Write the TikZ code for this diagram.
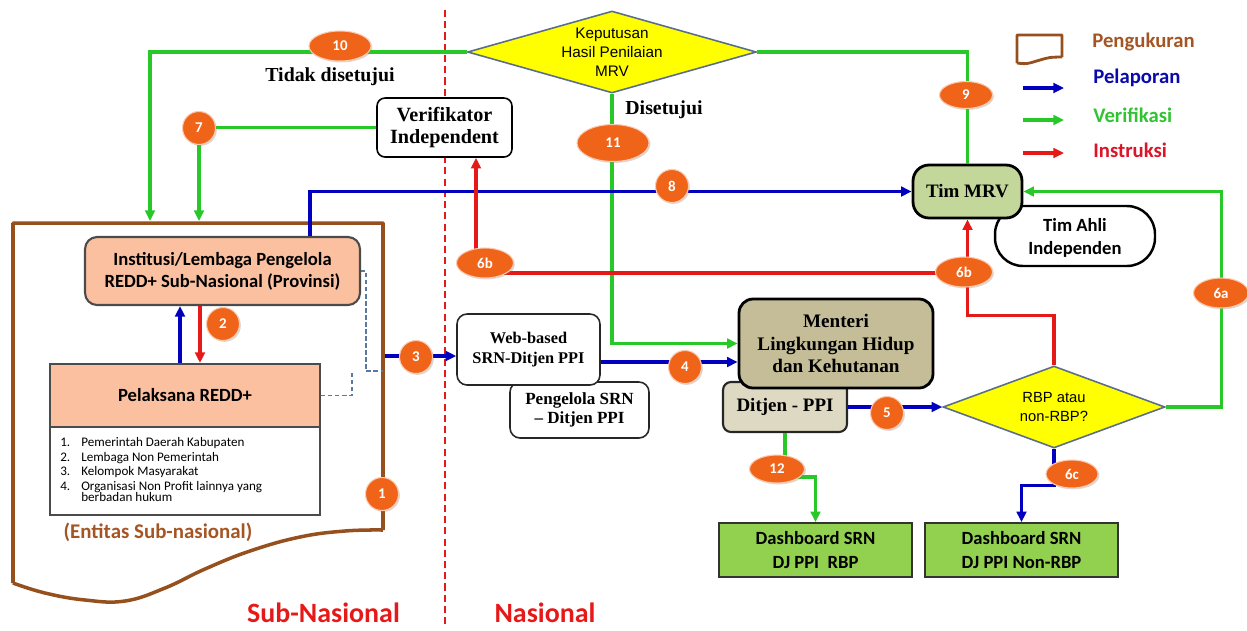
\documentclass[tikz,border=0pt]{standalone}
\usepackage{fontspec}
\setmainfont{Liberation Serif}
\newfontfamily\calfont{Carlito}
\newfontfamily\arialfont{Liberation Sans}
\usetikzlibrary{shapes.geometric,arrows.meta,calc,shadows}

\definecolor{cgreen}{RGB}{40,200,40}
\definecolor{cblue}{RGB}{0,0,190}
\definecolor{cred}{RGB}{230,25,25}
\definecolor{cbrown}{RGB}{150,80,30}
\definecolor{ctxtbrown}{RGB}{165,85,35}
\definecolor{corange}{RGB}{240,100,25}
\definecolor{csalmon}{RGB}{250,192,160}
\definecolor{ctim}{RGB}{196,215,155}
\definecolor{cmen}{RGB}{196,189,151}
\definecolor{cdit}{RGB}{221,217,195}
\definecolor{cdashb}{RGB}{146,208,80}
\definecolor{cyel}{RGB}{255,255,0}
\definecolor{cdiab}{RGB}{90,110,140}
\definecolor{cgray}{RGB}{75,75,75}
\definecolor{cdashline}{RGB}{90,120,160}
\definecolor{clegblue}{RGB}{10,10,170}
\definecolor{cleggreen}{RGB}{50,195,50}
\definecolor{clegred}{RGB}{220,20,40}

\newcommand\fsz[2]{\fontsize{#1}{#2}\selectfont}

\begin{document}
\begin{tikzpicture}[x=0.02cm,y=-0.02cm,
  conn/.style={line width=1.8pt},
  arr/.style={conn,-{Triangle[length=6pt,width=5.5pt]}},
  dashl/.style={draw=cdashline,line width=0.8pt,dash pattern=on 2.5pt off 1.5pt},
  badge/.style={ellipse,fill=corange,draw=corange!35!white,line width=0.6pt,
    text=white,font=\calfont\bfseries\fsz{8.5}{10},inner sep=0pt,
    drop shadow={opacity=0.3,shadow xshift=0.8pt,shadow yshift=-0.8pt}},
  rbadge/.style={badge,minimum width=0.66cm,minimum height=0.66cm},
  wbox/.style={draw=black,line width=0.9pt,fill=white,align=center,inner sep=0pt},
  dashbox/.style={draw=black!80,line width=1pt,fill=cdashb,align=center,inner sep=0pt,
    minimum width=3.86cm,minimum height=1.08cm,font=\calfont\bfseries\fsz{10.6}{13.6}},
  listtxt/.style={anchor=west,inner sep=0pt,font=\calfont\fsz{7.45}{8}},
]
\useasboundingbox (0,0) rectangle (1247,630);

% divider
\coordinate (dvt) at (445,10);
\coordinate (dvb) at (445,626);
\draw[cred,line width=1.3pt,dash pattern=on 4pt off 2.4pt] (dvt) -- (dvb);

% document shape (Entitas sub-nasional)
\draw[cbrown,line width=2pt,line join=round] (383,530) -- (383,223) -- (13,223) -- (13,583)
  plot[smooth,tension=0.7] coordinates {(13,583) (45,593) (85,600) (125,601) (165,588) (205,569) (250,551) (300,537) (345,531) (383,530)};

% decision diamonds
\node[diamond,fill=cyel,draw=cdiab,line width=0.9pt,inner sep=0pt,
  minimum width=5.78cm,minimum height=1.64cm] (kep) at (612,52) {};
\node[align=center,font=\arialfont\fsz{8.7}{10.8}] (kept) at (kep.center) {Keputusan\\Hasil Penilaian\\MRV};

\node[diamond,fill=cyel,draw=cdiab,line width=0.9pt,inner sep=0pt,
  minimum width=4.44cm,minimum height=1.64cm] (rbp) at (1054,407) {};
\node[align=center,font=\arialfont\fsz{8.4}{10.8}] (rbpt) at (rbp.center) {RBP atau\\non-RBP?};

% boxes
\node[wbox,rounded corners=0.16cm,minimum width=2.7cm,minimum height=1.18cm,
  font=\bfseries\fsz{11.5}{13}] (verif) at (444.5,127.5) {Verifikator\\Independent};

\node[draw=cgray,line width=1.2pt,fill=csalmon,rounded corners=0.24cm,align=center,inner sep=0pt,
  minimum width=5.5cm,minimum height=1.36cm,font=\calfont\bfseries\fsz{10.6}{12.6}] (inst) at (222.5,271)
  {Institusi/Lembaga Pengelola\\REDD+ Sub-Nasional (Provinsi)};

\node[draw=cgray,line width=1.2pt,fill=csalmon,inner sep=0pt,
  minimum width=5.4cm,minimum height=1.26cm,font=\calfont\bfseries\fsz{10.6}{12.6}] (pel) at (185,395.5)
  {Pelaksana REDD+};

\node[draw=cgray,line width=1.2pt,fill=white,inner sep=0pt,
  minimum width=5.4cm,minimum height=1.76cm] (list) at (185,471) {};
\node[listtxt] (li1) at (60,443) {\makebox[11.9pt][l]{1.}Pemerintah Daerah Kabupaten};
\node[listtxt] (li2) at (60,458) {\makebox[11.9pt][l]{2.}Lembaga Non Pemerintah};
\node[listtxt] (li3) at (60,472) {\makebox[11.9pt][l]{3.}Kelompok Masyarakat};
\node[listtxt] (li4) at (60,487) {\makebox[11.9pt][l]{4.}Organisasi Non Profit lainnya yang};
\node[listtxt] (li5) at (81,497) {berbadan hukum};

\node[font=\calfont\bfseries\fsz{11.9}{14},text=ctxtbrown] (ent) at (158,532) {(Entitas Sub-nasional)};

\node[wbox,draw=black!85,rounded corners=0.2cm,minimum width=2.78cm,minimum height=1.12cm,
  font=\bfseries\fsz{9.7}{11}] (peng) at (579.5,410) {Pengelola SRN\\– Ditjen PPI};
\node[wbox,draw=black!85,rounded corners=0.2cm,minimum width=2.86cm,minimum height=1.42cm,
  font=\bfseries\fsz{9.3}{11.3}] (web) at (528.5,349.5) {Web-based\\SRN-Ditjen PPI};

\node[draw=black!85,line width=1.2pt,fill=cdit,rounded corners=0.16cm,inner sep=0pt,
  minimum width=2.48cm,minimum height=1.0cm,font=\bfseries\fsz{10.8}{13}] (dit) at (785,407)
  {\raisebox{-3pt}{Ditjen - PPI}};
\node[draw=black,line width=1.6pt,fill=cmen,rounded corners=0.28cm,align=center,inner sep=0pt,
  minimum width=3.88cm,minimum height=1.78cm,font=\bfseries\fsz{10.9}{13}] (men) at (836,343.5)
  {Menteri\\Lingkungan Hidup\\dan Kehutanan};

\node[draw=black,line width=1.4pt,fill=white,rounded corners=0.56cm,align=center,inner sep=0pt,
  minimum width=3.2cm,minimum height=1.2cm,font=\calfont\bfseries\fsz{10.6}{13}] (ahli) at (1075,236)
  {\\[-3pt]Tim Ahli\\Independen};
\node[draw=black,line width=1.6pt,fill=ctim,rounded corners=0.32cm,inner sep=0pt,
  minimum width=2.18cm,minimum height=1.06cm,font=\bfseries\fsz{10.8}{13}] (tim) at (967.5,191.5) {Tim MRV};

\node[dashbox] (dbr) at (815.5,550) {Dashboard SRN\\DJ PPI\ \ RBP};
\node[dashbox] (dbn) at (1021.5,550) {Dashboard SRN\\DJ PPI Non-RBP};

% labels
\node[font=\bfseries\fsz{11.3}{13}] (tidak) at (330,77) {Tidak disetujui};
\node[font=\bfseries\fsz{11.3}{13}] (setuju) at (664,110) {Disetujui};
\node[font=\calfont\bfseries\fsz{15.9}{18},text=cred] (subn) at (323.5,613) {Sub-Nasional};
\node[font=\calfont\bfseries\fsz{15.9}{18},text=cred] (nas) at (545,613) {Nasional};

% connectors
\coordinate (d10) at (150,221);
\coordinate (d7) at (199,221);
\draw[arr,cgreen] (kep.west) -| (d10);
\draw[arr,cgreen] (verif.west) -| (d7);
\draw[conn,cgreen] (kep.east) -| (tim.north);
\draw[arr,cgreen] (kep.south) |- (men.west);
\coordinate (i8) at ($(inst.north)+(87.5,0)$);
\draw[arr,cblue] (i8) |- (tim.west);
\draw[arr,cred] (rbp.north) -- ++(0,-50) -| (tim.south);
\coordinate (y273) at (0,273);
\coordinate (j6b) at (tim.south |- y273);
\draw[arr,cred] (j6b) -| ($(verif.south)+(31.5,0)$);
\draw[arr,cgreen] (rbp.east) -- ++(56,0) |- (tim.east);
\draw[arr,cblue] (dit.east) -- (rbp.west);
\draw[arr,cblue] ($(web.east)+(0,12.5)$) -- ($(men.west)+(0,18.5)$);
\coordinate (d3) at (385,356);
\draw[arr,cblue] (d3) -- (d3 -| web.west);
\coordinate (up1) at ($(pel.north)+(-5,0)$);
\coordinate (dn1) at ($(pel.north)+(15,0)$);
\draw[arr,cblue] (up1) -- (up1 |- inst.south);
\draw[arr,cred] (dn1 |- inst.south) -- (dn1);
\draw[arr,cgreen] (dit.south) -- ++(0,44) -| (dbr.north);
\draw[arr,cblue] (rbp.south) -- ++(0,37) -| (dbn.north);
\coordinate (dj1) at (383,371);
\coordinate (dj2) at (352,371);
\draw[dashl] (inst.east) -- ++(5,0) |- (dj1);
\draw[dashl] (pel.east) -| (dj2);

% badges
\node[badge,minimum width=1.24cm,minimum height=0.6cm] (b10) at (340,46) {10};
\node[rbadge] (b7) at (199,128) {7};
\node[badge,minimum width=1.44cm,minimum height=0.74cm] (b11) at (613,143) {11};
\node[rbadge] (b8) at (672,186) {8};
\node[badge,minimum width=1.06cm,minimum height=0.54cm] (b9) at (966,95) {9};
\node[badge,minimum width=1.14cm,minimum height=0.6cm] (b6bl) at (485,263) {6b};
\node[badge,minimum width=1.14cm,minimum height=0.6cm] (b6br) at (964,272) {6b};
\node[badge,minimum width=1.1cm,minimum height=0.6cm] (b6a) at (1221,293) {6a};
\node[rbadge] (b5) at (887,413) {5};
\node[rbadge] (b4) at (685,367) {4};
\node[rbadge] (b3) at (416,357) {3};
\node[rbadge] (b2) at (223,324) {2};
\node[rbadge] (b1) at (382,494) {1};
\node[badge,minimum width=1.1cm,minimum height=0.56cm] (b12) at (777,469) {12};
\node[badge,minimum width=1.04cm,minimum height=0.56cm] (b6c) at (1072,474) {6c};

% legend
\draw[cbrown,line width=1.6pt,line join=round] (1062,57) -- (1062,35) -- (1017,35) -- (1017,63)
  plot[smooth,tension=0.6] coordinates {(1017,63) (1027,63.5) (1040,60) (1050,57.5) (1062,57)};
\coordinate (lb1) at (1023,88);  \coordinate (lb2) at (1064,88);
\coordinate (lg1) at (1023,120); \coordinate (lg2) at (1064,120);
\coordinate (lr1) at (1023,153); \coordinate (lr2) at (1064,153);
\draw[arr,cblue] (lb1) -- (lb2);
\draw[arr,cgreen] (lg1) -- (lg2);
\draw[arr,cred] (lr1) -- (lr2);
\node[anchor=west,inner sep=0pt,font=\calfont\bfseries\fsz{11.8}{14},text=ctxtbrown] (lgp) at (1092,42) {Pengukuran};
\node[anchor=west,inner sep=0pt,font=\calfont\bfseries\fsz{11.8}{14},text=clegblue] (lgl) at (1093,78) {Pelaporan};
\node[anchor=west,inner sep=0pt,font=\calfont\bfseries\fsz{11.8}{14},text=cleggreen] (lgv) at (1093,115) {Verifikasi};
\node[anchor=west,inner sep=0pt,font=\calfont\bfseries\fsz{11.8}{14},text=clegred] (lgi) at (1093,150) {Instruksi};
\end{tikzpicture}
\end{document}
